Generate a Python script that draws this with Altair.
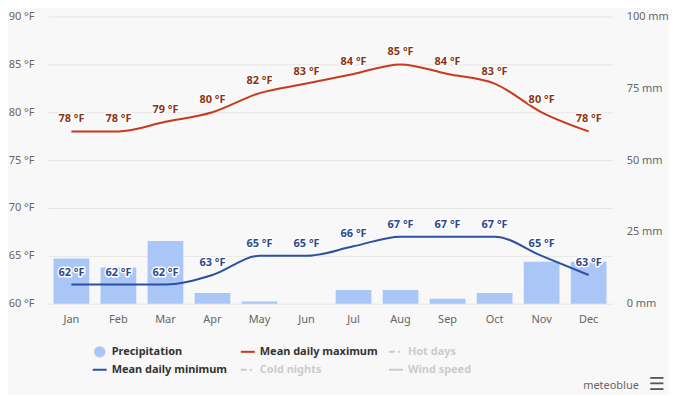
import altair as alt
import pandas as pd

months = ["Jan", "Feb", "Mar", "Apr", "May", "Jun", "Jul", "Aug", "Sep", "Oct", "Nov", "Dec"]
precip_mm = [15.7, 12.6, 21.8, 3.7, 0.8, 0.0, 4.8, 4.8, 1.7, 3.7, 14.6, 14.6]
temp_max_f = [78, 78, 79, 80, 82, 83, 84, 85, 84, 83, 80, 78]
temp_min_f = [62, 62, 62, 63, 65, 65, 66, 67, 67, 67, 65, 63]

legend_labels = ["Precipitation", "Mean daily maximum", "Hot days",
                 "Mean daily minimum", "Cold nights", "Wind speed"]
legend_col = [0, 1, 2, 0, 1, 2]
legend_row = [0, 0, 0, 1, 1, 1]
legend_kind = ["circle", "line", "dash", "line", "dash", "line"]
legend_active = [True, True, False, True, False, False]

C_BAR = "#a9c6f7"
C_MAX = "#c9391c"
C_MIN = "#2b51a3"
C_MAX_LBL = "#8b3514"
C_MIN_LBL = "#2c4a8e"
FONT = "Noto Sans"

precip = pd.DataFrame({"month": months, "precip": precip_mm})
temps = pd.DataFrame({
    "month": months * 2,
    "series": ["max"] * 12 + ["min"] * 12,
    "temp": temp_max_f + temp_min_f,
})
temps["label"] = temps["temp"].astype(str) + " °F"
temps["lblcolor"] = [C_MAX_LBL] * 12 + [C_MIN_LBL] * 12
temps["linecolor"] = [C_MAX] * 12 + [C_MIN] * 12

x_enc = alt.X("month:N", sort=months, title=None,
              scale=alt.Scale(paddingInner=0.24, paddingOuter=0.12),
              axis=alt.Axis(labelAngle=0, ticks=False, domain=False,
                            labelPadding=10, labelColor="#666666",
                            labelFontSize=11, labelFont=FONT, grid=False))

bars = alt.Chart(precip).mark_bar(color=C_BAR).encode(
    x=x_enc,
    y=alt.Y("precip:Q", title=None,
            scale=alt.Scale(domain=[0, 100], nice=False, zero=True),
            axis=alt.Axis(orient="right", values=[0, 25, 50, 75, 100],
                          labelExpr="datum.value + ' mm'", grid=False,
                          ticks=False, domain=False, labelPadding=14,
                          labelColor="#666666", labelFontSize=11, labelFont=FONT)),
)

y_temp = alt.Y("temp:Q", title=None,
               scale=alt.Scale(domain=[60, 90], nice=False, zero=False),
               axis=alt.Axis(orient="left", values=[60, 65, 70, 75, 80, 85, 90],
                             labelExpr="datum.value + ' °F'", grid=True,
                             gridColor="#e6e6e6", ticks=False, domain=False,
                             labelPadding=14, labelColor="#666666",
                             labelFontSize=11, labelFont=FONT))

lines = alt.Chart(temps).mark_line(interpolate="monotone", strokeWidth=2).encode(
    x=x_enc, y=y_temp, color=alt.Color("linecolor:N", scale=None), detail="series:N")

halo = alt.Chart(temps).mark_text(
    dy=-12, fontWeight="bold", fontSize=11, font=FONT, stroke="white",
    strokeWidth=3, strokeJoin="round", fill="white").encode(
    x=x_enc, y=y_temp, text="label:N")

lbls = alt.Chart(temps).mark_text(
    dy=-12, fontWeight="bold", fontSize=11, font=FONT).encode(
    x=x_enc, y=y_temp, text="label:N", color=alt.Color("lblcolor:N", scale=None))

temp_layer = alt.layer(lines, halo, lbls)

main = alt.layer(bars, temp_layer).resolve_scale(y="independent").properties(
    width=566, height=288)

# Custom legend panel
leg = pd.DataFrame({
    "label": legend_labels, "col": legend_col, "row": legend_row,
    "kind": legend_kind, "active": legend_active,
})
leg_color_map = {
    "Precipitation": C_BAR, "Mean daily maximum": C_MAX, "Mean daily minimum": C_MIN,
}
leg["symcolor"] = [leg_color_map.get(l, "#cccccc") for l in legend_labels]
leg["txtcolor"] = ["#333333" if a else "#cccccc" for a in legend_active]

lx = alt.X("col:Q", scale=alt.Scale(domain=[-0.35, 3.46]), axis=None)
ly = alt.Y("row:Q", scale=alt.Scale(domain=[-0.85, 1.93], reverse=True), axis=None)

leg_base = alt.Chart(leg)
leg_circle = leg_base.transform_filter("datum.kind == 'circle'").mark_circle(size=130, opacity=1).encode(
    x=lx, y=ly, color=alt.Color("symcolor:N", scale=None))
leg_line = leg_base.transform_filter("datum.kind == 'line'").mark_rule(
    xOffset=-7, x2Offset=7, strokeWidth=2).encode(
    x=lx, x2="col:Q", y=ly, color=alt.Color("symcolor:N", scale=None))
leg_dash = leg_base.transform_filter("datum.kind == 'dash'").mark_rule(
    xOffset=-7, x2Offset=7, strokeWidth=2, strokeDash=[6, 3, 2, 3]).encode(
    x=lx, x2="col:Q", y=ly, color=alt.Color("symcolor:N", scale=None))
leg_text = leg_base.mark_text(align="left", dx=12, fontWeight="bold", fontSize=11, font=FONT).encode(
    x=lx, y=ly, text="label:N", color=alt.Color("txtcolor:N", scale=None))

brand = pd.DataFrame({"col": [3.64], "row": [1.9], "label": ["meteoblue"]})
brand_text = alt.Chart(brand).mark_text(align="right", fontSize=11, font=FONT, color="#666666").encode(
    x=lx, y=ly, text="label:N")
menu = pd.DataFrame({"col": [3.76], "row": [1.85], "label": ["☰"]})
menu_text = alt.Chart(menu).mark_text(align="center", fontSize=18, font="DejaVu Sans", color="#555555").encode(
    x=lx, y=ly, text="label:N")

legend_panel = alt.layer(leg_circle, leg_line, leg_dash, leg_text, brand_text, menu_text).properties(
    width=566, height=50)

chart = alt.vconcat(main, legend_panel, spacing=12).properties(
    padding={"left": 0, "right": 0, "top": 2, "bottom": 0}
).configure(
    background="#f8f8f8",
).configure_view(stroke=None)

chart.save("out.html", embed_options={"renderer": "svg", "actions": False})
